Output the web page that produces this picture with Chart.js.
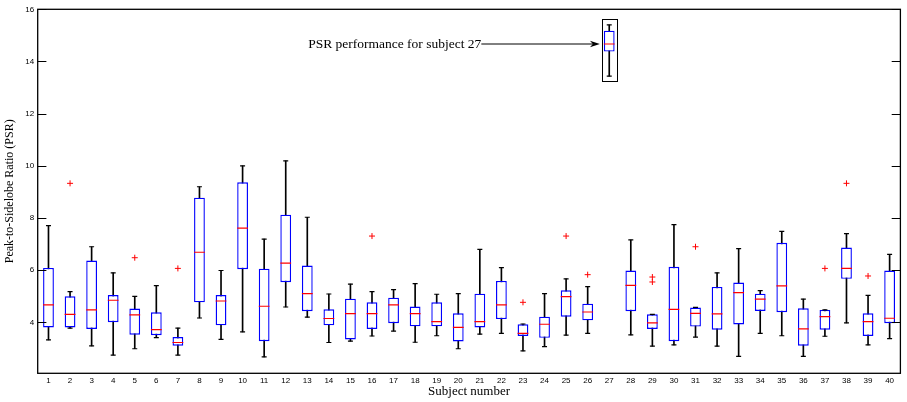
<!DOCTYPE html>
<html>
<head>
<meta charset="utf-8">
<script src="https://cdn.jsdelivr.net/npm/chart.js@4/dist/chart.umd.min.js"></script>
<style>
  html, body { margin: 0; padding: 0; background: #fff; }
  #wrap { width: 907px; height: 402px; }
</style>
</head>
<body>
<div id="wrap"><canvas id="psrBox"></canvas></div>
<script>
// subjects on the x axis
var subjects = ['1','2','3','4','5','6','7','8','9','10','11','12','13','14','15','16','17','18','19','20',
                '21','22','23','24','25','26','27','28','29','30','31','32','33','34','35','36','37','38','39','40'];

// box plot statistics per subject
var lowWhisker  = [3.33,3.78,3.10,2.75,2.99,3.42,2.75,4.17,3.35,3.64,2.68,4.59,4.20,3.23,3.28,3.48,3.67,3.24,3.49,2.99,
                   3.55,3.58,2.91,3.07,3.51,3.58,13.44,3.52,3.09,3.14,3.44,3.09,2.70,3.58,3.49,2.70,3.47,3.98,3.14,3.38];
var q1          = [3.81,3.81,3.75,4.01,3.53,3.51,3.11,4.77,3.89,6.04,3.28,5.54,4.43,3.89,3.35,3.75,3.97,3.85,3.85,3.27,
                   3.81,4.13,3.48,3.41,4.22,4.08,14.38,4.43,3.75,3.28,3.84,3.72,3.92,4.44,4.39,3.11,3.72,5.67,3.48,3.97];
var medians     = [4.67,4.31,4.48,4.85,4.29,3.72,3.23,6.69,4.82,7.61,4.62,6.27,5.10,4.15,4.34,4.34,4.67,4.34,4.03,3.81,
                   4.03,4.67,3.58,3.93,4.99,4.40,14.67,5.42,3.98,4.50,4.35,4.33,5.14,4.89,5.40,3.75,4.22,6.07,4.03,4.16];
var q3          = [6.09,5.00,6.37,5.05,4.53,4.39,3.44,8.78,5.05,9.37,6.06,8.13,6.18,4.50,4.91,4.77,4.95,4.61,4.77,4.35,
                   5.10,5.59,3.93,4.22,5.23,4.72,15.18,5.99,4.31,6.13,4.57,5.36,5.53,5.10,7.05,4.54,4.48,6.87,4.35,5.99];
var highWhisker = [7.71,5.18,6.90,5.90,5.00,5.41,3.78,9.20,5.99,10.00,7.19,10.19,8.03,5.09,5.47,5.18,5.26,5.49,5.08,5.10,
                   6.80,6.10,3.94,5.10,5.67,5.37,15.40,7.16,4.31,7.75,4.58,5.90,6.83,5.22,7.49,4.89,4.48,7.40,5.04,6.61];

// outliers as [subject, value]
var outliers = [['2',9.33],['5',6.48],['7',6.07],['16',7.31],['23',4.77],['25',7.31],['26',5.83],
                ['29',5.74],['29',5.55],['31',6.90],['37',6.07],['38',9.33],['39',5.78]];

var yTickValues = [4,6,8,10,12,14,16];
var highlightSubject = '27';
var highlightText = 'PSR performance for subject 27';

var boxRanges = q1.map(function (v, i) { return [v, q3[i]]; });
var whiskerRanges = lowWhisker.map(function (v, i) { return [v, highWhisker[i]]; });
var outlierPoints = outliers.map(function (o) { return { x: o[0], y: o[1] }; });

// frame, inward ticks and the subject 27 callout
var frameAndNotes = {
  id: 'frameAndNotes',
  afterDraw: function (chart) {
    var ctx = chart.ctx, a = chart.chartArea;
    var xs = chart.scales.x, ys = chart.scales.y;
    ctx.save();
    ctx.strokeStyle = '#000';
    ctx.lineWidth = 1.3;
    ctx.strokeRect(a.left, a.top, a.right - a.left, a.bottom - a.top);

    ctx.lineWidth = 1;
    yTickValues.forEach(function (v) {
      var y = Math.round(ys.getPixelForValue(v)) + 0.5;
      ctx.beginPath();
      ctx.moveTo(a.left, y); ctx.lineTo(a.left + 8.7, y);
      ctx.moveTo(a.right, y); ctx.lineTo(a.right - 8.7, y);
      ctx.stroke();
    });

    // rectangle round subject 27
    var idx = subjects.indexOf(highlightSubject);
    var xc = xs.getPixelForValue(idx);
    var half = xs.getPixelForValue(idx + 0.34) - xc;
    var yTop = ys.getPixelForValue(15.63), yBot = ys.getPixelForValue(13.27);
    ctx.lineWidth = 1;
    ctx.strokeRect(Math.round(xc - half) + 0.5, Math.round(yTop) + 0.5, Math.round(2 * half), Math.round(yBot - yTop));

    // arrow and text
    var yA = ys.getPixelForValue(medians[idx]);
    var xStart = xs.getPixelForValue(20.07);
    var xTip = xc - half - 2;
    ctx.beginPath();
    ctx.moveTo(xStart, yA); ctx.lineTo(xTip - 6, yA);
    ctx.stroke();
    ctx.beginPath();
    ctx.moveTo(xTip, yA);
    ctx.lineTo(xTip - 10, yA - 3.2);
    ctx.lineTo(xTip - 7, yA);
    ctx.lineTo(xTip - 10, yA + 3.2);
    ctx.closePath();
    ctx.fillStyle = '#000';
    ctx.fill();

    ctx.font = '13.5px "Liberation Serif", "Times New Roman", serif';
    ctx.textAlign = 'right';
    ctx.textBaseline = 'middle';
    ctx.fillText(highlightText, xStart, yA);
    ctx.restore();
  }
};

var tickFont = { family: '"Liberation Sans", Arial, sans-serif', size: 8 };
var titleFont = { family: '"Liberation Serif", "Times New Roman", serif', size: 12 };

var psrCtx = document.getElementById('psrBox');
var psrChart = new Chart(psrCtx, {
  type: 'bar',
  data: {
    labels: subjects,
    datasets: [
      {
        type: 'line',
        label: 'Outliers',
        data: outlierPoints,
        showLine: false,
        pointStyle: 'cross',
        pointRadius: 3,
        pointBorderColor: '#ff0000',
        pointBorderWidth: 1,
        order: 0
      },
      {
        type: 'line',
        label: 'Median',
        data: medians,
        showLine: false,
        pointStyle: 'line',
        pointRadius: 5.4,
        pointBorderColor: '#ff0000',
        pointBorderWidth: 1.2,
        order: 1
      },
      {
        type: 'line',
        label: 'Upper cap',
        data: highWhisker,
        showLine: false,
        pointStyle: 'line',
        pointRadius: 2.5,
        pointBorderColor: '#000',
        pointBorderWidth: 1.2,
        order: 1
      },
      {
        type: 'line',
        label: 'Lower cap',
        data: lowWhisker,
        showLine: false,
        pointStyle: 'line',
        pointRadius: 2.5,
        pointBorderColor: '#000',
        pointBorderWidth: 1.2,
        order: 1
      },
      {
        label: 'Box',
        data: boxRanges,
        backgroundColor: '#ffffff',
        borderColor: '#0000ff',
        borderWidth: 1.4,
        borderSkipped: false,
        grouped: false,
        barPercentage: 0.5,
        categoryPercentage: 1,
        order: 2
      },
      {
        label: 'Whisker',
        data: whiskerRanges,
        backgroundColor: '#000000',
        borderWidth: 0,
        grouped: false,
        barThickness: 1,
        order: 3
      }
    ]
  },
  options: {
    responsive: true,
    maintainAspectRatio: false,
    animation: false,
    layout: { padding: { top: 9.3, right: 2.7, bottom: 0, left: 0 } },
    plugins: {
      legend: { display: false },
      tooltip: { enabled: false }
    },
    scales: {
      x: {
        grid: { display: false, drawTicks: false },
        border: { display: false },
        ticks: { font: tickFont, color: '#000', padding: 3, maxRotation: 0, autoSkip: false },
        title: { display: true, text: 'Subject number', font: { family: titleFont.family, size: 13 }, color: '#000', padding: { top: 0, bottom: 3 } },
        afterFit: function (scale) { scale.height = 28.7; }
      },
      y: {
        min: 2.05,
        max: 16,
        grid: { display: false, drawTicks: false },
        border: { display: false },
        afterBuildTicks: function (scale) {
          scale.ticks = yTickValues.map(function (v) { return { value: v }; });
        },
        ticks: { font: tickFont, color: '#000', padding: 3.5 },
        title: { display: true, text: 'Peak-to-Sidelobe Ratio (PSR)', font: titleFont, color: '#000', padding: { top: 3, bottom: 0 } },
        afterFit: function (scale) { scale.width = 37.7; }
      }
    }
  },
  plugins: [frameAndNotes]
});
</script>
</body>
</html>
